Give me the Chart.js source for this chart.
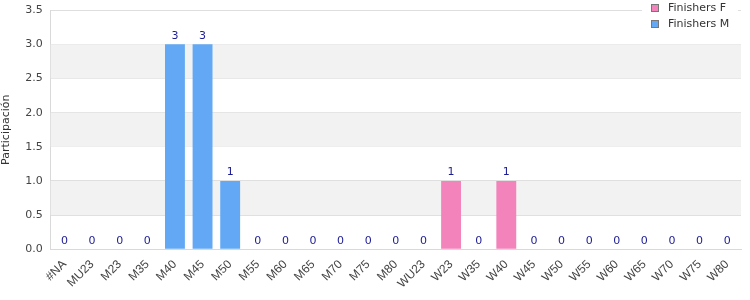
<!DOCTYPE html>
<html><head><meta charset="utf-8">
<script src="https://cdn.jsdelivr.net/npm/chart.js@4/dist/chart.umd.min.js"></script>
<style>html,body{margin:0;padding:0;background:#fff}#wrap{width:750px;height:300px;position:relative}</style>
</head><body><div id="wrap"><canvas id="c"></canvas></div>
<script>
const categories = ["#NA","MU23","M23","M35","M40","M45","M50","M55","M60","M65","M70","M75","M80","WU23","W23","W35","W40","W45","W50","W55","W60","W65","W70","W75","W80"];
const finishersF = [0,0,0,0,0,0,0,0,0,0,0,0,0,0,1,0,1,0,0,0,0,0,0,0,0];
const finishersM = [0,0,0,0,3,3,1,0,0,0,0,0,0,0,0,0,0,0,0,0,0,0,0,0,0];
const yTicks = [0,0.5,1,1.5,2,2.5,3,3.5];
const FONT = "'DejaVu Sans', sans-serif";
const XFONT = "'Liberation Sans', Arial, sans-serif";

const bands = {
  id:'bands',
  beforeDatasetsDraw(chart){
    const {ctx, chartArea:a, scales:{y}} = chart;
    ctx.save(); ctx.fillStyle = '#f2f2f2';
    for (let v = 0.5; v < 3.5; v += 1) {
      const t = y.getPixelForValue(v+0.5), b = y.getPixelForValue(v);
      ctx.fillRect(a.left, t, a.right-a.left, b-t);
    }
    ctx.restore();
  }
};
const valueLabels = {
  id:'valueLabels',
  afterDatasetsDraw(chart){
    const {ctx, scales:{x,y}} = chart;
    ctx.save(); ctx.font = '11px ' + FONT; ctx.fillStyle = '#1c1c95';
    ctx.textAlign = 'center'; ctx.textBaseline = 'bottom';
    categories.forEach((c,i)=>{
      const tot = finishersF[i] + finishersM[i];
      ctx.fillText(String(tot), x.getPixelForValue(i), y.getPixelForValue(tot) - 3);
    });
    ctx.restore();
  }
};
const legendBox = {
  id:'legendBox',
  afterDraw(chart){
    const {ctx} = chart;
    const items = [['Finishers F','#f283bb'],['Finishers M','#62a8f5']];
    ctx.save();
    ctx.fillStyle = '#fff'; ctx.fillRect(642, 0, 96, 11);
    ctx.font = '11px ' + FONT; ctx.textBaseline = 'middle'; ctx.textAlign = 'left';
    items.forEach((it,k)=>{
      const cy = 8 + k*16;
      ctx.fillStyle = it[1]; ctx.fillRect(651, cy-4, 8, 8);
      ctx.strokeStyle = '#777'; ctx.lineWidth = 1; ctx.strokeRect(651.5, cy-3.5, 7, 7);
      ctx.fillStyle = '#333'; ctx.fillText(it[0], 668, cy);
    });
    ctx.restore();
  }
};

new Chart(document.getElementById('c'), {
  type:'bar',
  data:{ labels: categories, datasets:[
    {label:'Finishers F', data: finishersF, backgroundColor:'#f283bb', stack:'s'},
    {label:'Finishers M', data: finishersM, backgroundColor:'#62a8f5', stack:'s'}
  ]},
  options:{
    responsive:true, maintainAspectRatio:false, animation:false,
    layout:{padding:{top:0,right:9,left:0,bottom:1}},
    datasets:{bar:{categoryPercentage:0.8, barPercentage:0.9}},
    plugins:{legend:{display:false}, tooltip:{enabled:false}},
    scales:{
      x:{stacked:true, grid:{display:false, drawTicks:false}, border:{color:'#d9d9d9'},
         ticks:{font:{family:XFONT,size:12}, color:'#444', minRotation:45, maxRotation:45, autoSkip:false, padding:8}},
      y:{stacked:true, min:0, max:3.5, afterBuildTicks(ax){ax.ticks = yTicks.map(v=>({value:v}));},
         grid:{color:'#dedede', drawTicks:false}, border:{color:'#d9d9d9'},
         ticks:{font:{family:FONT,size:11,lineHeight:0.4}, color:'#444', padding:8, callback:v=>Number(v).toFixed(1)},
         title:{display:true, text:'Participación', font:{family:FONT,size:11}, color:'#333', padding:{top:0,bottom:4}}}
    }
  },
  plugins:[bands, valueLabels, legendBox]
});
</script></body></html>
